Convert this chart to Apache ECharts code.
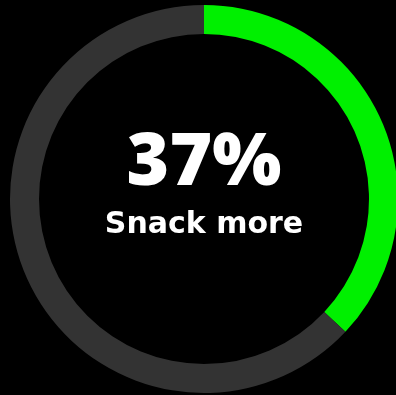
<!DOCTYPE html>
<html><head><meta charset="utf-8">
<script src="https://cdn.jsdelivr.net/npm/echarts@6/dist/echarts.min.js"></script>
<style>html,body{margin:0;padding:0;background:#000;}#c{width:396px;height:395px;}</style>
</head><body><div id="c"></div>
<script>
const categories = ['Snack more', 'Rest'];
const values = [37, 63];
const colors = ['#00f000', '#333333'];
const centerLabel = '37%';
const subLabel = 'Snack more';

const chart = echarts.init(document.getElementById('c'));
chart.setOption({
  backgroundColor: '#000000',
  animation: false,
  series: [{
    type: 'pie',
    center: [204, 199],
    radius: [165, 194],
    startAngle: 90,
    clockwise: true,
    silent: true,
    label: { show: false },
    labelLine: { show: false },
    itemStyle: { borderWidth: 0 },
    data: categories.map((c, i) => ({ name: c, value: values[i], itemStyle: { color: colors[i] } }))
  }],
  graphic: [
    { type: 'text', x: 204, y: 128, style: { text: centerLabel, fill: '#fff', font: '800 73px "Open Sans"', textAlign: 'center' } },
    { type: 'text', x: 204, y: 210, style: { text: subLabel, fill: '#fff', font: 'bold 30px "DejaVu Sans"', textAlign: 'center' } }
  ]
});
</script></body></html>
